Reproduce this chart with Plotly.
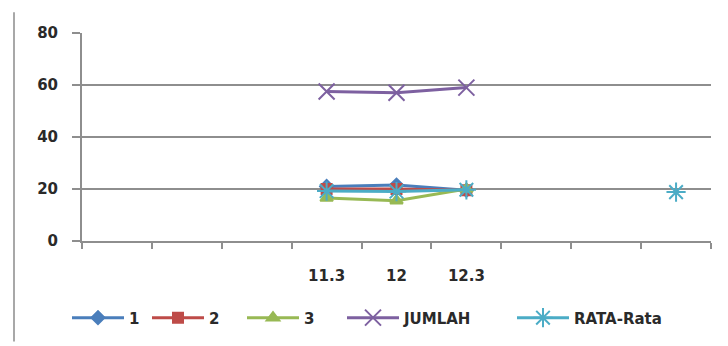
import plotly.graph_objects as go

categories = ["", "", "", "11.3", "12", "12.3", "", "", ""]
x_pos = [i + 1 for i in range(len(categories))]

s1 = [None, None, None, 21, 21.5, 19.5, None, None, None]
s2 = [None, None, None, 20, 20, 19.5, None, None, None]
s3 = [None, None, None, 16.5, 15.5, 20, None, None, None]
jumlah = [None, None, None, 57.5, 57, 59, None, None, None]
rata = [None, None, None, 19.2, 19, 19.7, None, None, 18.8]

series = [
    ("1", s1, "#4a7ebb", "diamond", 10),
    ("2", s2, "#be4b48", "square", 10),
    ("3", s3, "#98b954", "triangle-up", 11),
    ("JUMLAH", jumlah, "#7d60a0", "x-thin-open", 16),
    ("RATA-Rata", rata, "#4bacc6", "asterisk-open", 16),
]
legend_starts = [72, 152, 247, 347, 517]  # pixel x where each legend entry begins

L, R, T, B = 82, 17, 33, 102
PW, PH = 728 - L - R, 346 - T - B

fig = go.Figure()
legend_layout = {}
for k, (name, vals, color, sym, size) in enumerate(series):
    lg = "legend" if k == 0 else f"legend{k + 1}"
    fig.add_trace(go.Scatter(
        x=x_pos, y=vals, name=name, mode="lines+markers",
        line=dict(color=color, width=3),
        marker=dict(symbol=sym, size=size, color=color,
                    line=dict(color=color, width=2)),
        connectgaps=False, legend=lg,
    ))
    legend_layout[lg] = dict(
        orientation="h", x=(legend_starts[k] - 5 - L) / PW, xanchor="left",
        y=(346 - B - 322) / PH, yanchor="middle",
        font=dict(family="DejaVu Sans", size=15, color="#2a2a2a", weight="bold"),
        itemwidth=52, bgcolor="rgba(0,0,0,0)",
    )

grid = "#8e8e8e"
font = dict(family="DejaVu Sans", size=15, color="#2a2a2a", weight="bold")

label_vals = [x_pos[i] for i, c in enumerate(categories) if c]
label_text = [c for c in categories if c]

fig.update_layout(
    width=728, height=346,
    margin=dict(l=L, r=R, t=T, b=B),
    paper_bgcolor="white", plot_bgcolor="white",
    font=font,
    showlegend=True,
    xaxis=dict(range=[0.5, 9.5], tickvals=[i + 0.5 for i in range(10)],
               ticktext=[""] * 10, ticks="outside", ticklen=6, tickwidth=2,
               tickcolor=grid, showline=True, linecolor=grid, linewidth=2,
               showgrid=False, zeroline=False, fixedrange=True),
    xaxis2=dict(overlaying="x", anchor="y", side="bottom", matches="x",
                range=[0.5, 9.5], tickvals=label_vals, ticktext=label_text,
                ticks="", showline=False, showgrid=False, zeroline=False,
                ticklabelstandoff=24, tickfont=font),
    yaxis=dict(range=[0, 80], dtick=20, tick0=0, showgrid=True, gridcolor=grid,
               gridwidth=2, showline=True, linecolor=grid, linewidth=2,
               ticks="outside", ticklen=8, tickwidth=2, tickcolor=grid,
               zeroline=False, ticklabelstandoff=11, tickfont=font),
    shapes=[dict(type="line", xref="paper", yref="paper",
                 x0=(14 - L) / PW, x1=(14 - L) / PW,
                 y0=(244 - 12) / PH, y1=(244 - 346) / PH,
                 line=dict(color="#a8a8a8", width=2))],
    **legend_layout,
)
fig.add_trace(go.Scatter(x=[1], y=[None], xaxis="x2", showlegend=False, hoverinfo="skip"))

fig.write_html("out.html")
